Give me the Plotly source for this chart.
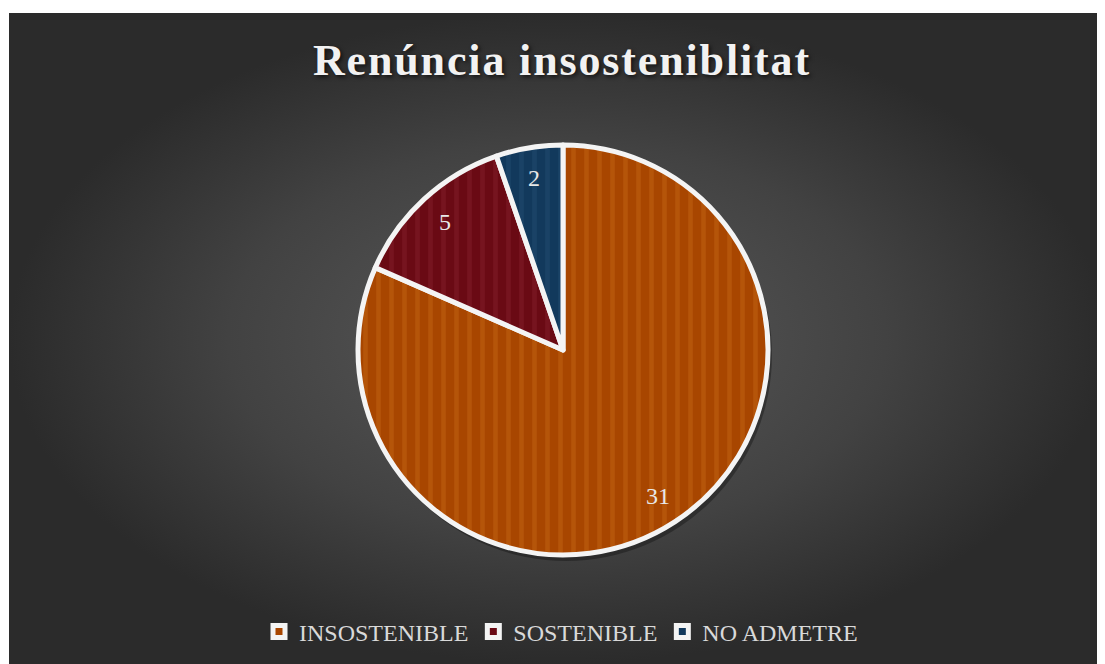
import math

import plotly.graph_objects as go

# chart data
categories = ["INSOSTENIBLE", "SOSTENIBLE", "NO ADMETRE"]
counts = [31, 5, 2]
slice_colors = ["#a84600", "#6a0a14", "#12395c"]
stripe_colors = ["#bf6010", "#801a28", "#20496e"]

title_text = "Renúncia insosteniblitat"

# page body has an 8px margin, so the figure is sized to fill the window
W, H = 1097, 656
PANEL_LEFT = 1 / W
PANEL_TOP = 1 - 5 / H

# pie centre / radius in figure pixels
CX, CY, R = 555, 342, 205
LABEL_R = 0.85


def pie_domain(cx, cy, r):
    return dict(
        x=[(cx - r - 10) / W, (cx + r + 10) / W],
        y=[1 - (cy + r) / H, 1 - (cy - r) / H],
    )


def spaced(s, gap_px=22):
    # poor man's letter-spacing: a hair space drawn at a smaller size
    sep = f'<span style="font-size:{gap_px}px">\u200a</span>'
    return sep.join(s)


fig = go.Figure()

# dark panel with radial gradient
fig.add_trace(
    go.Scatter(
        x=[0, 1, 1, 0, 0],
        y=[0, 0, 1, 1, 0],
        mode="lines",
        line=dict(width=0),
        fill="toself",
        fillgradient=dict(
            type="radial",
            colorscale=[[0, "#5a5a5a"], [0.6, "#424242"], [1, "#2b2b2b"]],
        ),
        hoverinfo="skip",
        showlegend=False,
    )
)

# soft drop shadow under the pie
fig.add_trace(
    go.Pie(
        values=[1],
        labels=["shadow"],
        domain=pie_domain(CX + 3, CY + 5, R + 1),
        marker=dict(colors=["rgba(0,0,0,0.3)"], line=dict(width=0)),
        textinfo="none",
        hoverinfo="skip",
        showlegend=False,
        sort=False,
    )
)

fig.add_trace(
    go.Pie(
        labels=categories,
        values=counts,
        sort=False,
        direction="clockwise",
        rotation=0,
        domain=pie_domain(CX, CY, R),
        marker=dict(
            colors=slice_colors,
            line=dict(color="#f4f4f4", width=5),
            pattern=dict(
                shape="|",
                fillmode="replace",
                bgcolor=slice_colors,
                fgcolor=stripe_colors,
                fgopacity=0.55,
                size=13,
                solidity=0.35,
            ),
        ),
        textinfo="none",
        hoverinfo="label+value+percent",
    )
)

# value labels placed along each slice's mid angle
total = sum(counts)
start = 0.0
for v in counts:
    mid = (start + v / 2) / total * 2 * math.pi
    start += v
    px = CX + LABEL_R * R * math.sin(mid)
    py = CY - LABEL_R * R * math.cos(mid)
    fig.add_annotation(
        x=px / W,
        y=1 - py / H,
        xref="paper",
        yref="paper",
        xanchor="center",
        yanchor="middle",
        text=str(v),
        showarrow=False,
        font=dict(family="Liberation Serif", size=24, color="#e8e8e8"),
    )

fig.update_layout(
    width=W,
    height=H,
    margin=dict(l=0, r=0, t=0, b=0),
    paper_bgcolor="white",
    plot_bgcolor="rgba(0,0,0,0)",
    xaxis=dict(
        domain=[PANEL_LEFT, 1], range=[0, 1], visible=False, fixedrange=True
    ),
    yaxis=dict(
        domain=[0, PANEL_TOP], range=[0, 1], visible=False, fixedrange=True
    ),
    title=dict(
        text=f"<b>{spaced(title_text)}</b>",
        x=553 / W,
        xanchor="center",
        y=1 - 52 / H,
        yanchor="middle",
        font=dict(
            family="Liberation Serif",
            size=44,
            color="#f2f2f2",
            shadow="2px 2px 4px rgba(0,0,0,0.65)",
        ),
    ),
    legend=dict(
        orientation="h",
        x=553 / W,
        xanchor="center",
        y=1 - 624 / H,
        yanchor="middle",
        bgcolor="rgba(0,0,0,0)",
        font=dict(family="Liberation Serif", size=24, color="#d9d9d9"),
        itemwidth=30,
        traceorder="normal",
    ),
    showlegend=True,
)

fig.write_html("out.html")
